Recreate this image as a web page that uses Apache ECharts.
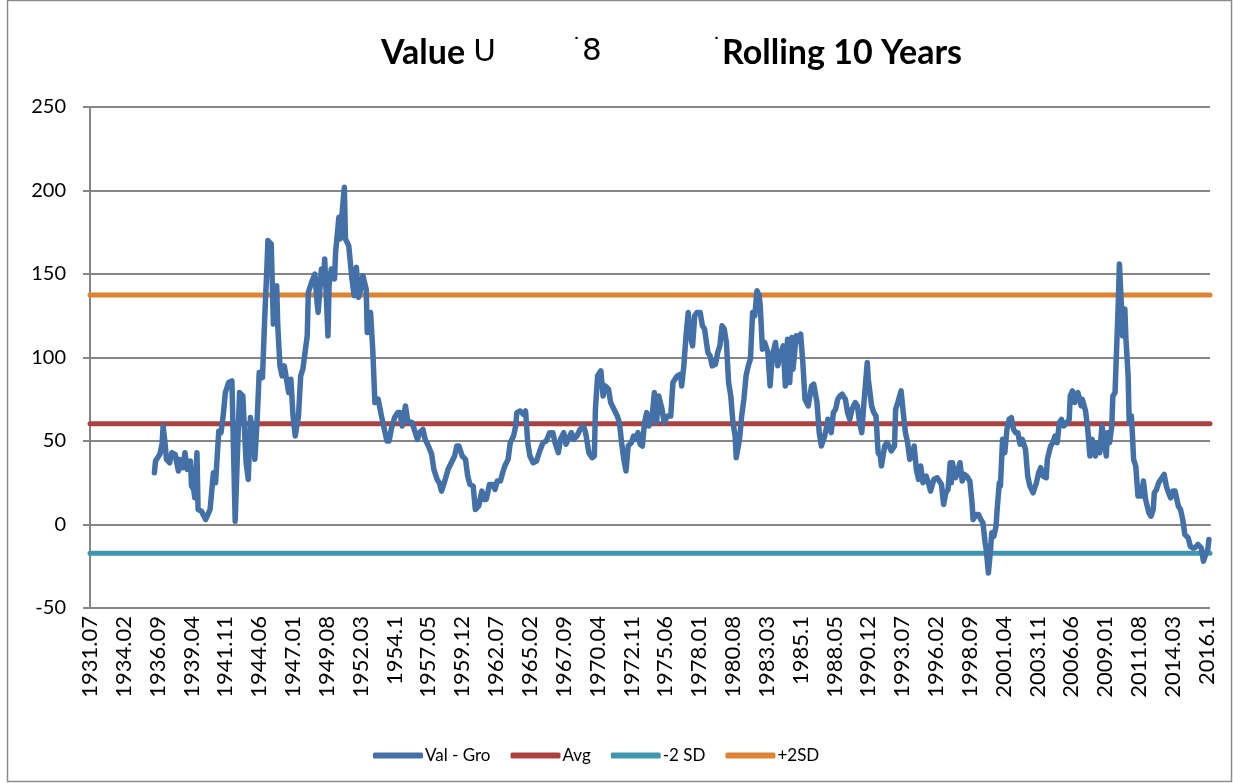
<!DOCTYPE html>
<html>
<head>
<meta charset="utf-8">
<script src="https://cdn.jsdelivr.net/npm/echarts@6/dist/echarts.min.js"></script>
<style>
  html, body { margin: 0; padding: 0; background: #fff; }
  #chart { width: 1233px; height: 783px; }
</style>
</head>
<body>
<div id="chart"></div>
<script>
// monthly category axis, 1931.07 .. 2017.01 (October shows as "YYYY.1", like the sheet)
const firstYear = 1931, firstMonth = 7, lastYear = 2017, lastMonth = 1;
const categories = [];
for (let y = firstYear; y <= lastYear; y++) {
  for (let m = 1; m <= 12; m++) {
    if (y === firstYear && m < firstMonth) continue;
    if (y === lastYear && m > lastMonth) break;
    categories.push(m === 10 ? y + ".1" : y + "." + String(m).padStart(2, "0"));
  }
}

// Val - Gro
const valGroDates = [
  "1936.06","1936.07","1936.11","1937.01","1937.02","1937.04","1937.05","1937.08","1937.10","1938.01",
  "1938.04","1938.05","1938.08","1938.10","1938.12","1939.03","1939.04","1939.06","1939.07","1939.09",
  "1939.10","1940.01","1940.05","1940.09","1940.10","1940.12","1941.02","1941.05","1941.07","1941.09",
  "1941.11","1942.02","1942.05","1942.08","1942.10","1942.12","1943.03","1943.06","1943.08","1943.10",
  "1944.01","1944.02","1944.04","1944.06","1944.09","1944.11","1945.01","1945.02","1945.05","1945.07",
  "1945.10","1945.11","1946.01","1946.03","1946.05","1946.07","1946.09","1946.11","1947.01","1947.03",
  "1947.06","1947.08","1947.10","1948.02","1948.03","1948.06","1948.09","1948.11","1948.12","1949.03",
  "1949.05","1949.06","1949.09","1949.10","1949.12","1950.03","1950.04","1950.07","1950.08","1950.10",
  "1950.12","1951.01","1951.04","1951.07","1951.09","1951.11","1952.01","1952.03","1952.05","1952.08",
  "1952.09","1952.12","1953.02","1953.04","1953.07","1953.10","1953.12","1954.03","1954.05","1954.07",
  "1954.10","1955.01","1955.03","1955.05","1955.08","1955.10","1956.02","1956.04","1956.07","1956.09",
  "1956.12","1957.02","1957.05","1957.08","1957.10","1958.01","1958.03","1958.05","1958.08","1958.11",
  "1959.02","1959.05","1959.07","1959.09","1959.12","1960.03","1960.05","1960.07","1960.10","1960.12",
  "1961.03","1961.06","1961.08","1961.10","1962.01","1962.04","1962.06","1962.08","1962.11","1963.01",
  "1963.03","1963.06","1963.08","1963.11","1964.01","1964.02","1964.05","1964.08","1964.10","1964.12",
  "1965.02","1965.05","1965.08","1965.11","1966.02","1966.05","1966.08","1966.11","1967.01","1967.04",
  "1967.06","1967.09","1967.11","1968.01","1968.04","1968.06","1968.09","1968.12","1969.03","1969.05",
  "1969.08","1969.11","1970.01","1970.02","1970.04","1970.07","1970.09","1970.11","1971.02","1971.04",
  "1971.07","1971.10","1971.12","1972.02","1972.04","1972.06","1972.08","1972.11","1973.01","1973.03",
  "1973.05","1973.07","1973.09","1973.11","1974.01","1974.03","1974.06","1974.08","1974.10","1974.12",
  "1975.03","1975.05","1975.08","1975.11","1976.01","1976.05","1976.08","1976.09","1976.11","1977.01",
  "1977.03","1977.05","1977.07","1977.09","1977.11","1978.02","1978.04","1978.06","1978.09","1978.11",
  "1979.01","1979.04","1979.06","1979.08","1979.10","1979.12","1980.02","1980.04","1980.06","1980.08",
  "1980.10","1980.11","1981.02","1981.04","1981.06","1981.08","1981.10","1981.12","1982.02","1982.04",
  "1982.06","1982.08","1982.09","1982.11","1983.01","1983.04","1983.06","1983.08","1983.11","1984.01",
  "1984.03","1984.06","1984.08","1984.10","1984.12","1985.02","1985.03","1985.06","1985.08","1985.10",
  "1985.12","1986.02","1986.05","1986.08","1986.10","1987.01","1987.03","1987.05","1987.08","1987.10",
  "1987.11","1988.02","1988.04","1988.06","1988.08","1988.10","1988.12","1989.03","1989.05","1989.07",
  "1989.09","1989.12","1990.02","1990.04","1990.06","1990.08","1990.11","1990.12","1991.03","1991.05",
  "1991.07","1991.09","1991.11","1991.12","1992.03","1992.05","1992.07","1992.09","1992.12","1993.01",
  "1993.03","1993.06","1993.08","1993.10","1993.12","1994.02","1994.04","1994.06","1994.08","1994.10",
  "1994.12","1995.02","1995.05","1995.07","1995.09","1995.12","1996.03","1996.05","1996.07","1996.09",
  "1996.11","1997.01","1997.03","1997.04","1997.05","1997.08","1997.10","1997.12","1998.02","1998.04",
  "1998.06","1998.09","1998.11","1998.12","1999.03","1999.05","1999.07","1999.09","1999.11","1999.12",
  "2000.02","2000.04","2000.05","2000.07","2000.09","2000.10","2000.12","2001.01","2001.03","2001.05",
  "2001.07","2001.09","2001.11","2002.01","2002.03","2002.05","2002.07","2002.09","2002.12","2003.02",
  "2003.04","2003.07","2003.10","2003.12","2004.02","2004.04","2004.07","2004.08","2004.11","2005.01",
  "2005.03","2005.05","2005.07","2005.09","2005.11","2006.02","2006.04","2006.05","2006.07","2006.09",
  "2006.12","2007.01","2007.03","2007.04","2007.07","2007.09","2007.11","2008.01","2008.04","2008.06",
  "2008.08","2008.10","2008.12","2009.02","2009.03","2009.05","2009.07","2009.08","2009.10","2009.12",
  "2010.01","2010.02","2010.04","2010.05","2010.07","2010.08","2010.10","2010.11","2011.01","2011.02",
  "2011.03","2011.05","2011.07","2011.10","2011.12","2012.02","2012.05","2012.07","2012.09","2012.10",
  "2012.12","2013.02","2013.05","2013.07","2013.09","2013.11","2014.01","2014.03","2014.05","2014.08",
  "2014.10","2014.12","2015.02","2015.05","2015.07","2015.09","2015.11","2016.02","2016.05","2016.07",
  "2016.09","2016.11","2016.12"
];
const valGroValues = [
  31, 38, 42, 48, 59, 47, 39, 37, 43, 42,
  32, 39, 34, 43, 33, 38, 23, 21, 16, 43,
  9, 8, 3, 9, 16, 31, 25, 56, 55, 65,
  79, 85, 86, 2, 41, 79, 77, 37, 27, 64,
  51, 39, 61, 91, 88, 123, 153, 170, 168, 120,
  143, 119, 95, 89, 95, 87, 79, 87, 65, 53,
  65, 89, 93, 113, 139, 145, 150, 133, 127, 153,
  144, 159, 113, 143, 153, 147, 163, 184, 171, 187,
  202, 171, 167, 147, 137, 154, 136, 141, 149, 141,
  115, 127, 105, 73, 75, 65, 59, 50, 50, 57,
  64, 67, 67, 59, 71, 62, 61, 57, 51, 55,
  57, 51, 47, 42, 33, 27, 25, 20, 26, 33,
  37, 41, 47, 47, 41, 39, 29, 24, 23, 9,
  11, 20, 15, 15, 24, 24, 21, 26, 26, 31,
  35, 39, 49, 53, 59, 67, 68, 66, 68, 49,
  41, 37, 38, 44, 49, 50, 55, 55, 49, 43,
  51, 55, 48, 51, 55, 51, 53, 57, 59, 55,
  43, 40, 41, 69, 89, 92, 77, 83, 81, 73,
  69, 65, 61, 49, 39, 32, 47, 49, 53, 51,
  55, 48, 47, 61, 67, 59, 65, 79, 61, 77,
  69, 61, 65, 65, 85, 89, 90, 83, 95, 113,
  127, 113, 107, 125, 127, 127, 119, 117, 103, 101,
  95, 96, 103, 107, 119, 117, 109, 85, 77, 61,
  53, 40, 51, 65, 75, 89, 95, 99, 127, 125,
  140, 137, 131, 105, 109, 103, 83, 101, 109, 95,
  101, 107, 83, 111, 85, 112, 93, 113, 110, 114,
  97, 75, 71, 83, 84, 73, 55, 47, 53, 59,
  63, 55, 67, 69, 75, 77, 78, 75, 67, 63,
  69, 73, 71, 61, 55, 73, 97, 87, 71, 67,
  65, 43, 41, 35, 47, 49, 47, 44, 47, 69,
  73, 80, 67, 55, 49, 39, 41, 47, 33, 27,
  35, 25, 29, 25, 20, 27, 28, 26, 24, 12,
  19, 21, 37, 25, 37, 28, 32, 37, 26, 30,
  29, 26, 13, 3, 6, 6, 3, 1, -11, -15,
  -29, -15, -5, -7, -1, 9, 25, 23, 51, 43,
  57, 63, 64, 57, 55, 55, 48, 51, 45, 29,
  23, 19, 25, 31, 34, 29, 28, 39, 47, 49,
  53, 49, 61, 63, 59, 61, 63, 77, 80, 73,
  79, 80, 71, 75, 68, 57, 41, 51, 41, 49,
  43, 59, 51, 41, 55, 49, 59, 77, 79, 115,
  133, 156, 129, 113, 129, 111, 89, 61, 65, 53,
  39, 35, 17, 17, 26, 15, 7, 5, 9, 19,
  21, 25, 28, 30, 23, 19, 16, 20, 20, 11,
  9, 3, -6, -8, -13, -14, -14, -12, -14, -22,
  -18, -15, -9
];

// reference levels
const avgValue = 60.3;
const minus2SD = -17.2;
const plus2SD = 137.5;

const yTicks = { min: -50, max: 250, step: 50 };

function monthIndex(d) {
  const [y, m] = d.split(".").map(Number);
  return (y - firstYear) * 12 + (m - firstMonth);
}

const valGroData = valGroDates.map((d, k) => [monthIndex(d), valGroValues[k]]);
const lastIdx = categories.length - 1;
const flatLine = v => [[0, v], [lastIdx, v]];

const chart = echarts.init(document.getElementById("chart"), null, { renderer: "canvas" });

const bold = { fontFamily: "Lato", fontWeight: "bold", fontSize: 34, color: "#000" };
const thin = { fontFamily: "DejaVu Sans", fontWeight: "normal", fontSize: 31, color: "#000" };
const dot = { fontFamily: "DejaVu Sans", fontWeight: "normal", fontSize: 22, color: "#000", verticalAlign: "top" };

const option = {
  backgroundColor: "#fff",
  animation: false,
  title: [
    { text: "{b|Value }{n|U}", left: 376, top: 31, textStyle: { rich: { b: bold, n: thin } } },
    { text: "{d|˙}{n|8}", left: 566, top: 31, textStyle: { rich: { d: dot, n: thin } } },
    { text: "{d|˙}{b|Rolling 10 Years}", left: 706, top: 31, textStyle: { rich: { d: dot, b: bold } } }
  ],
  graphic: [{
    type: "rect",
    shape: { x: 7.5, y: 0.5, width: 1224, height: 781 },
    style: { fill: "none", stroke: "#8c8c8c", lineWidth: 1.5 },
    silent: true
  }],
  legend: {
    left: 368,
    top: 742,
    icon: "roundRect",
    itemWidth: 50,
    itemHeight: 6,
    itemGap: 20,
    textStyle: { fontFamily: "Lato", fontSize: 17, color: "#000", padding: [0, 0, 0, -3] },
    data: ["Val - Gro", "Avg", "-2 SD", "+2SD"]
  },
  grid: { left: 90, right: 23, top: 107, bottom: 175, containLabel: false },
  xAxis: {
    type: "category",
    data: categories,
    boundaryGap: false,
    axisLine: { show: true, lineStyle: { color: "#868686", width: 2 } },
    axisTick: { show: false },
    axisLabel: {
      interval: 30,
      rotate: 90,
      margin: 8,
      fontFamily: "Lato",
      fontSize: 22,
      color: "#000"
    },
    splitLine: { show: false }
  },
  yAxis: {
    type: "value",
    min: yTicks.min,
    max: yTicks.max,
    interval: yTicks.step,
    axisLine: { show: true, lineStyle: { color: "#868686", width: 2 } },
    axisTick: { show: true, inside: false, length: 7, lineStyle: { color: "#868686", width: 2 } },
    axisLabel: { fontFamily: "Lato", fontSize: 20, color: "#000", margin: 24 },
    splitLine: { show: true, lineStyle: { color: "#868686", width: 2 } }
  },
  series: [
    {
      name: "Avg", type: "line", data: flatLine(avgValue), symbol: "none", z: 3,
      color: "#ab4240", lineStyle: { width: 5, cap: "round" }
    },
    {
      name: "-2 SD", type: "line", data: flatLine(minus2SD), symbol: "none", z: 3,
      color: "#3f97ae", lineStyle: { width: 5, cap: "round" }
    },
    {
      name: "+2SD", type: "line", data: flatLine(plus2SD), symbol: "none", z: 3,
      color: "#de8234", lineStyle: { width: 5, cap: "round" }
    },
    {
      name: "Val - Gro", type: "line", data: valGroData, symbol: "none", z: 4,
      color: "#4470a8", lineStyle: { width: 5.5, cap: "round", join: "round" }
    }
  ]
};

chart.setOption(option);
</script>
</body>
</html>
